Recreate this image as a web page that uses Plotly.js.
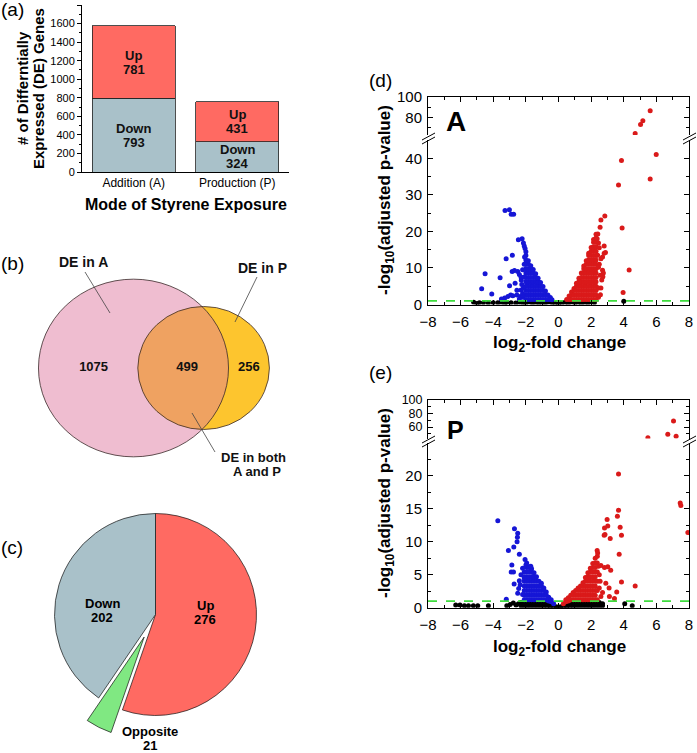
<!DOCTYPE html>
<html><head><meta charset="utf-8">
<script src="https://cdn.plot.ly/plotly-3.0.1.min.js"></script>
<style>html,body{margin:0;padding:0;background:#fff}#chart{width:697px;height:753px}</style>
</head><body><div id="chart"></div>
<script>
// ---------------- DATA ----------------
// (a) stacked bars
const modes = ['Addition (A)', 'Production (P)'];
const downCounts = [793, 324];
const upCounts = [781, 431];
// (b) Venn counts
const vennOnlyA = 1075, vennBoth = 499, vennOnlyP = 256;
// (c) pie
const pieLabels = ['Up', 'Opposite', 'Down'];
const pieValues = [276, 21, 202];
// (d) volcano A  [log2FC, -log10 padj]
const dBlack = [[-5.2,0.6],[-5.0,0.3],[-4.85,0.5],[-4.6,0.5],[-4.3,0.4],[-4.0,0.5],[-3.72,0.5],[-3.52,0.6],[-3.3,0.3],[-3.17,0.6],[-2.91,0.5],[-2.62,0.4],[-2.4,0.6],[-2.2,0.5],[-2.0,0.4],[-1.8,0.7],[-1.6,0.4],[-1.4,0.6],[-1.2,0.3],[-1.0,0.6],[-0.8,0.4],[-0.6,0.7],[-0.4,0.5],[-0.2,0.3],[0,0.2],[0.2,0.4],[0.4,0.6],[0.6,0.3],[0.8,0.7],[1.0,0.4],[1.2,0.6],[1.4,0.3],[1.6,0.6],[1.8,0.4],[2.0,0.7],[2.2,0.5],[4.0,0.9]];
const dBlueCols = [
  [-2.0,[1.4,2.6,3.8,5.0,6.2,7.4,8.6,9.8,11.0,12.2,13.4,14.4]],
  [-1.85,[1.4,2.6,3.8,5.0,6.2,7.4,8.6,9.8,11.0,12.0]],
  [-1.7,[1.4,2.6,3.8,5.0,6.2,7.4,8.6,9.8,10.6]],
  [-1.55,[1.4,2.6,3.8,5.0,6.2,7.4,8.6,9.6]],
  [-1.4,[1.4,2.6,3.8,5.0,6.2,7.4,8.4]],
  [-1.25,[1.4,2.6,3.8,5.0,6.2,7.2]],
  [-1.1,[1.4,2.6,3.8,5.0,6.0]],
  [-0.95,[1.4,2.6,3.8,4.9]],
  [-0.8,[1.4,2.6,3.7]],
  [-0.65,[1.4,2.6]],
  [-0.5,[1.4,1.9]],
  [-0.4,[1.3]]
];
const dBlueOut = [[-3.28,25.7],[-3.01,25.9],[-2.9,24.7],[-2.75,24.7],[-2.46,17.7],[-2.23,18.0],[-2.15,16.8],[-2.1,16.0],[-2.05,15.3],[-2.08,13.0],[-2.1,11.0],[-3.21,12.5],[-2.83,13.5],[-4.5,8.4],[-4.71,4.3],[-4.09,2.9],[-3.58,7.3],[-3.0,5.1],[-2.84,9.0],[-2.7,9.3],[-2.5,9.0],[-2.66,5.8],[-2.93,2.6],[-2.8,2.4],[-2.55,2.6],[-2.28,6.6],[-2.25,5.5],[-2.55,3.9],[-3.5,1.5],[-3.3,1.8],[-3.1,2.2],[-2.3,4.0],[-2.35,2.2],[-2.2,3.0],[-2.4,8.2],[-2.2,9.5],[-2.3,7.5],[-2.15,4.5],[-2.2,2.0],[-2.4,1.5],[-2.1,7.5]];
const dRedCols = [
  [0.5,[1.4]],
  [0.65,[1.4,2.3]],
  [0.8,[1.4,2.6,3.4]],
  [0.95,[1.4,2.6,3.8,4.4]],
  [1.1,[1.4,2.6,3.8,5.0,5.8]],
  [1.25,[1.4,2.6,3.8,5.0,6.2,7.2]],
  [1.4,[1.4,2.6,3.8,5.0,6.2,7.4,8.6]],
  [1.55,[1.4,2.6,3.8,5.0,6.2,7.4,8.6,9.8,10.5]],
  [1.7,[1.4,2.6,3.8,5.0,6.2,7.4,8.6,9.8,11.0,12.0]],
  [1.85,[1.4,2.6,3.8,5.0,6.2,7.4,8.6,9.8,11.0,12.2,13.4,14.0]],
  [2.0,[1.4,2.6,3.8,5.0,6.2,7.4,8.6,9.8,11.0,12.2,13.4,14.6,15.6]],
  [2.15,[1.4,2.6,3.8,5.0,6.2,7.4,8.6,9.8,11.0,12.2,13.4,14.6,15.8,17.0,17.8]],
  [2.3,[1.4,2.6,3.8,5.0,6.2,7.4,8.6,9.8,11.0,12.2,13.4,14.6,15.8,17.0,18.2,19.2]]
];
const dRedOut = [[5.99,41.0],[3.86,39.4],[5.62,34.3],[3.68,32.7],[3.9,20.9],[4.33,9.45],[3.96,3.3],[2.84,24.2],[2.6,23.1],[2.55,21.1],[2.41,19.3],[2.37,18.0],[2.8,16.0],[2.8,14.0],[2.88,14.2],[2.7,13.0],[2.6,12.5],[2.7,9.4],[2.75,8.6],[2.72,7.6],[2.65,6.7],[2.6,4.5],[2.45,4.5],[2.57,2.7],[2.45,2.0],[2.5,15.5],[2.45,16.8],[2.5,11.0],[2.45,10.2],[2.4,13.5],[2.55,8.0]];
const dRedHigh = [[5.62,86.4],[5.17,76.7],[5.03,73.2],[4.7,64.4]];
// (e) volcano P
const eBlack = [[-6.3,0.4],[-6.04,0.4],[-5.77,0.3],[-5.52,0.3],[-5.22,0.3],[-4.95,0.3],[-4.3,0.3],[-3.17,0.3],[-2.97,0.5],[-2.77,0.7],[-2.6,0.4],[-2.45,0.6],
  [-2.3,0.3],[-2.3,0.8],[-2.1,0.3],[-2.1,0.8],[-1.9,0.3],[-1.9,0.8],[-1.7,0.3],[-1.7,0.8],[-1.5,0.3],[-1.5,0.8],[-1.3,0.3],[-1.3,0.8],[-1.1,0.3],[-1.1,0.7],[-0.9,0.3],[-0.9,0.6],[-0.7,0.25],[-0.7,0.5],[-0.5,0.2],[-0.5,0.4],[-0.3,0.2],[-0.15,0.15],[0,0.1],[0.15,0.15],[0.3,0.2],[0.5,0.2],[0.5,0.4],[0.7,0.25],[0.7,0.5],[0.9,0.3],[0.9,0.6],[1.1,0.3],[1.1,0.7],
  [1.3,0.3],[1.3,0.8],[1.5,0.3],[1.5,0.8],[1.7,0.3],[1.7,0.8],[1.9,0.3],[1.9,0.8],[2.1,0.3],[2.1,0.8],[2.3,0.3],[2.3,0.8],[2.5,0.3],[2.5,0.8],[2.7,0.3],[2.7,0.6],[4.06,0.6],[4.52,0.3]];
const eBlueCols = [
  [-2.1,[1.2,1.9,2.6,3.3,4.0,4.7,5.4]],
  [-1.95,[1.2,1.9,2.6,3.3,4.0,4.7,5.4,6.1]],
  [-1.8,[1.2,1.9,2.6,3.3,4.0,4.7,5.4,6.1]],
  [-1.65,[1.2,1.9,2.6,3.3,4.0,4.7,5.4,5.9]],
  [-1.5,[1.2,1.9,2.6,3.3,4.0,4.7,5.3]],
  [-1.35,[1.2,1.9,2.6,3.3,4.0,4.7]],
  [-1.2,[1.2,1.9,2.6,3.3,4.0]],
  [-1.05,[1.2,1.9,2.6,3.3,3.7]],
  [-0.9,[1.2,1.9,2.6,3.0]],
  [-0.75,[1.2,1.9,2.4]],
  [-0.6,[1.0,1.6]],
  [-0.45,[0.9,1.2]],
  [-0.3,[0.6]]
];
const eBlueOut = [[-3.72,13.2],[-2.7,12.0],[-2.5,11.3],[-2.52,10.7],[-2.54,10.0],[-2.74,9.2],[-3.07,8.7],[-2.4,8.1],[-2.86,6.5],[-2.9,5.4],[-2.76,5.4],[-2.05,7.3],[-2.2,6.0],[-2.0,6.5],[-1.8,6.2],[-2.72,3.6],[-2.44,2.9],[-2.4,4.1],[-3.2,1.3],[-2.3,5.0],[-2.35,3.5],[-2.5,2.2],[-2.2,2.0],[-1.95,6.8],[-1.7,6.3],[-2.1,4.5]];
const eRedCols = [
  [0.3,[0.6]],
  [0.45,[0.9,1.2]],
  [0.6,[1.0,1.5]],
  [0.75,[1.2,1.9]],
  [0.9,[1.2,1.9,2.3]],
  [1.05,[1.2,1.9,2.6]],
  [1.2,[1.2,1.9,2.6,3.0]],
  [1.35,[1.2,1.9,2.6,3.3]],
  [1.5,[1.2,1.9,2.6,3.3,3.8]],
  [1.65,[1.2,1.9,2.6,3.3,4.0,4.6]],
  [1.8,[1.2,1.9,2.6,3.3,4.0,4.7,5.3]],
  [1.95,[1.2,1.9,2.6,3.3,4.0,4.7,5.4,6.0]],
  [2.1,[1.2,1.9,2.6,3.3,4.0,4.7,5.4,6.1,6.7]],
  [2.25,[1.2,1.9,2.6,3.3,4.0,4.7,5.4,6.1,6.8,7.5]],
  [2.38,[1.2,2.6,4.0,5.4,6.8,7.8]]
];
const eRedOut = [[3.68,20.3],[7.46,15.9],[7.5,15.5],[7.93,11.4],[3.68,14.8],[3.61,13.9],[2.98,13.4],[3.02,12.4],[2.82,12.1],[3.78,12.2],[2.8,11.0],[2.85,11.1],[3.17,10.5],[3.86,11.0],[3.72,8.1],[2.37,8.7],[2.82,6.1],[3.02,6.2],[3.2,5.7],[3.86,3.9],[4.7,3.3],[2.9,3.7],[3.1,3.0],[3.57,2.4],[3.12,1.7],[3.43,1.4],[2.6,1.7],[2.5,3.0],[2.5,5.0],[2.45,6.3],[2.55,4.0],[2.7,2.3],[2.6,6.4],[2.4,8.3]];
const eRedHigh = [[7.05,68.9],[6.7,49.2],[7.21,46.2],[5.48,44.1]];
const padjThreshold = 1;

// ---------------- BUILD ----------------
const W = 697, H = 753;
const px = x => x / W, py = y => 1 - y / H;
const F = 'Liberation Sans, Arial, Helvetica, sans-serif';
const upC = '#FF6A62', downC = '#A9C1C9', greenC = '#80E882';
const blueC = '#1616D6', redC = '#DA1A1A';

const flat = cols => { const xs = [], ys = []; cols.forEach(c => c[1].forEach(v => { xs.push(c[0]); ys.push(v); })); return [xs, ys]; };
const pts = (arr, xs0, ys0) => { const xs = (xs0 || []).slice(), ys = (ys0 || []).slice(); arr.forEach(p => { xs.push(p[0]); ys.push(p[1]); }); return [xs, ys]; };
const sc = (xy, color, xa, ya) => ({type:'scatter', mode:'markers', x:xy[0], y:xy[1], xaxis:xa, yaxis:ya,
  marker:{color:color, size:5, line:{width:0}}, hoverinfo:'skip', showlegend:false});

const traces = [];
// (a)
traces.push({type:'bar', x:modes, y:downCounts, name:'Down', width:0.8,
  marker:{color:downC, line:{color:'#222', width:0.8}}, textposition:'none', xaxis:'x', yaxis:'y', hoverinfo:'skip'});
traces.push({type:'bar', x:modes, y:upCounts, name:'Up', width:0.8,
  marker:{color:upC, line:{color:'#222', width:0.8}}, textposition:'none', xaxis:'x', yaxis:'y', hoverinfo:'skip'});

// (b) Venn geometry from counts (area proportional)
const nA = vennOnlyA + vennBoth, nP = vennOnlyP + vennBoth;
const rA = Math.sqrt(nA / Math.PI), rP = Math.sqrt(nP / Math.PI);
function lens(d) {
  const a1 = Math.acos((d*d + rA*rA - rP*rP) / (2*d*rA));
  const a2 = Math.acos((d*d + rP*rP - rA*rA) / (2*d*rP));
  return rA*rA*a1 + rP*rP*a2 - 0.5*Math.sqrt((-d+rA+rP)*(d+rA-rP)*(d-rA+rP)*(d+rA+rP));
}
let lo = Math.abs(rA - rP) + 1e-6, hi = rA + rP - 1e-6;
for (let i = 0; i < 80; i++) { const m = (lo + hi) / 2; if (lens(m) > vennBoth) lo = m; else hi = m; }
const dv = (lo + hi) / 2;
const K = 4.245, SQ = 0.935, cxA = 133.5, cyV = 368;
const cxP = cxA + dv * K;
const RA = rA * K, RP = rP * K;
const xi = (dv*dv + rA*rA - rP*rP) / (2*dv), hh = Math.sqrt(rA*rA - xi*xi);
const tA = Math.atan2(hh, xi), tP = Math.atan2(hh, dv - xi);
const mapV = (u, v) => (cxA + K*u).toFixed(2) + ',' + (cyV - K*SQ*v).toFixed(2);
let lensPath = '';
for (let i = 0; i <= 40; i++) { const t = -tA + 2*tA*i/40; lensPath += (i ? ' L' : 'M') + mapV(rA*Math.cos(t), rA*Math.sin(t)); }
for (let i = 0; i <= 40; i++) { const t = Math.PI - tP + 2*tP*i/40; lensPath += ' L' + mapV(dv + rP*Math.cos(t), rP*Math.sin(t)); }
lensPath += ' Z';
traces.push({type:'scatter', mode:'text', xaxis:'x2', yaxis:'y2',
  x:[cxA - RA*0.42, ((cxP - RP) + (cxA + RA))/2 + 4, ((cxA + RA) + (cxP + RP))/2],
  y:[cyV, cyV, cyV], text:[vennOnlyA, vennBoth, vennOnlyP].map(String),
  textfont:{family:F, size:13, color:'#111', weight:'bold'}, hoverinfo:'skip', showlegend:false, cliponaxis:false});

// (c) pie
traces.push({type:'pie', values:pieValues, labels:pieLabels, sort:false, direction:'clockwise', rotation:0,
  pull:[0, 0.25, 0], marker:{colors:[upC, greenC, downC], line:{color:'#111', width:0.7}},
  textinfo:'none', textposition:'none',
  domain:{x:[px(29.25), px(281.75)], y:[py(740.75), py(488.25)]}, hoverinfo:'skip', showlegend:false});

// (d)
traces.push(sc(pts(dBlack), '#000', 'x3', 'y3'));
const dB = flat(dBlueCols); traces.push(sc(pts(dBlueOut, dB[0], dB[1]), blueC, 'x3', 'y3'));
const dR = flat(dRedCols); traces.push(sc(pts(dRedOut, dR[0], dR[1]), redC, 'x3', 'y3'));
traces.push(sc(pts(dRedHigh), redC, 'x4', 'y4'));
traces.push({type:'scatter', mode:'lines', x:[-8, 8], y:[padjThreshold, padjThreshold], xaxis:'x3', yaxis:'y3',
  line:{color:'#3EDC3E', width:1.6, dash:'dash'}, hoverinfo:'skip', showlegend:false});
// (e)
traces.push(sc(pts(eBlack), '#000', 'x5', 'y5'));
const eB = flat(eBlueCols); traces.push(sc(pts(eBlueOut, eB[0], eB[1]), blueC, 'x5', 'y5'));
const eR = flat(eRedCols); traces.push(sc(pts(eRedOut, eR[0], eR[1]), redC, 'x5', 'y5'));
traces.push(sc(pts(eRedHigh), redC, 'x6', 'y6'));
traces.push({type:'scatter', mode:'lines', x:[-8, 8], y:[padjThreshold, padjThreshold], xaxis:'x5', yaxis:'y5',
  line:{color:'#3EDC3E', width:1.6, dash:'dash'}, hoverinfo:'skip', showlegend:false});

// ---------------- LAYOUT ----------------
const tf = s => ({family:F, size:s, color:'#000'});
const volX = (anchor, extra) => Object.assign({domain:[px(428), px(689)], range:[-8, 8], anchor:anchor,
  showline:true, linecolor:'#000', linewidth:1, ticks:'inside', ticklen:5, tickcolor:'#000', dtick:2, tick0:0,
  ticklabelstandoff:3,
  minor:{dtick:1, ticks:'inside', ticklen:3, tickcolor:'#000'}, showgrid:false, zeroline:false, tickfont:tf(15), fixedrange:true}, extra || {});
const volY = (anchor, top, bot, range, tickvals, mdt, fs) => ({domain:[py(bot), py(top)], range:range, anchor:anchor,
  showline:true, mirror:'ticks', linecolor:'#000', linewidth:1, ticks:'inside', ticklen:5, tickcolor:'#000',
  ticklabelstandoff:2,
  tickmode:'array', tickvals:tickvals, minor:{dtick:mdt, tick0:0, ticks:'inside', ticklen:3, tickcolor:'#000'},
  showgrid:false, zeroline:false, tickfont:tf(fs || 15), fixedrange:true});

const ann = (x, y, text, size, extra) => Object.assign({xref:'paper', yref:'paper', x:px(x), y:py(y), text:text,
  showarrow:false, xanchor:'center', yanchor:'middle', font:tf(size)}, extra || {});
const vann = (x, y, text, size) => ({xref:'x2', yref:'y2', x:x, y:y, text:text, showarrow:false,
  xanchor:'center', yanchor:'middle', font:{family:F, size:size, color:'#111', weight:'bold'}});
const bann = (x, y, text, shift) => ({xref:'x', yref:'y', x:x, y:y, text:'<b>' + text + '</b>', showarrow:false,
  xanchor:'center', yanchor:'middle', yshift:shift, font:{family:F, size:13, color:'#111'}});

const annotations = [
  ann(12, 10, '(a)', 19), ann(12, 263, '(b)', 19), ann(12, 547, '(c)', 19), ann(380, 80, '(d)', 19), ann(380, 372, '(e)', 19),
  ann(22, 88, '<b># of Differntially</b>', 15, {textangle:-90}),
  ann(38, 89, '<b>Expressed (DE) Genes</b>', 15, {textangle:-90}),
  ann(186, 205, '<b>Mode of Styrene Exposure</b>', 16),
  vann(83.5, 262, 'DE in A', 14), vann(262, 268, 'DE in P', 14),
  vann(253, 457, 'DE in both', 13), vann(257, 471, 'A and P', 13),
  ann(205, 605, '<b>' + pieLabels[0] + '</b>', 13), ann(205, 619, '<b>' + pieValues[0] + '</b>', 13),
  ann(102, 603, '<b>' + pieLabels[2] + '</b>', 13), ann(102, 617, '<b>' + pieValues[2] + '</b>', 13),
  ann(150, 731, '<b>' + pieLabels[1] + '</b>', 13), ann(150, 745, '<b>' + pieValues[1] + '</b>', 13),
  ann(456, 122, '<b>A</b>', 28), ann(455, 430, '<b>P</b>', 25),
  ann(386, 200, '<b>-log<sub>10</sub>(adjusted p-value)</b>', 17, {textangle:-90}),
  ann(386, 503, '<b>-log<sub>10</sub>(adjusted p-value)</b>', 17, {textangle:-90}),
  ann(559, 344, '<b>log<sub>2</sub>-fold change</b>', 17),
  ann(559, 648, '<b>log<sub>2</sub>-fold change</b>', 17)
];
modes.forEach((m, i) => {
  annotations.push(bann(m, downCounts[i] / 2, 'Down', 7), bann(m, downCounts[i] / 2, String(downCounts[i]), -7));
  annotations.push(bann(m, downCounts[i] + upCounts[i] / 2, 'Up', 7), bann(m, downCounts[i] + upCounts[i] / 2, String(upCounts[i]), -7));
});

const brk = (x0, y0, x1, y1) => ({type:'line', xref:'paper', yref:'paper', x0:px(x0), y0:py(y0), x1:px(x1), y1:py(y1), line:{color:'#000', width:1}});
const vline = (x0, y0, x1, y1) => ({type:'line', xref:'x2', yref:'y2', x0:x0, y0:y0, x1:x1, y1:y1, line:{color:'#444', width:0.8}, layer:'above'});
const shapes = [
  {type:'circle', xref:'x2', yref:'y2', x0:cxA-RA, x1:cxA+RA, y0:cyV-RA*SQ, y1:cyV+RA*SQ, fillcolor:'#EFBDD0', line:{width:0}, layer:'below'},
  {type:'circle', xref:'x2', yref:'y2', x0:cxP-RP, x1:cxP+RP, y0:cyV-RP*SQ, y1:cyV+RP*SQ, fillcolor:'#FDC52E', line:{width:0}, layer:'below'},
  {type:'path', xref:'x2', yref:'y2', path:lensPath, fillcolor:'#EFA261', line:{width:0}, layer:'below'},
  {type:'circle', xref:'x2', yref:'y2', x0:cxA-RA, x1:cxA+RA, y0:cyV-RA*SQ, y1:cyV+RA*SQ, fillcolor:'rgba(0,0,0,0)', line:{color:'#3a2a2a', width:0.8}, layer:'below'},
  {type:'circle', xref:'x2', yref:'y2', x0:cxP-RP, x1:cxP+RP, y0:cyV-RP*SQ, y1:cyV+RP*SQ, fillcolor:'rgba(0,0,0,0)', line:{color:'#3a2a2a', width:0.8}, layer:'below'},
  vline(85, 272, 110, 313), vline(257, 277, 235, 322), vline(192, 413, 215, 452),
  brk(422, 140, 435, 133), brk(422, 144, 435, 137), brk(683, 140, 696, 133), brk(683, 144, 696, 137),
  brk(422, 443, 435, 436), brk(422, 447, 435, 440), brk(683, 443, 696, 436), brk(683, 447, 696, 440)
];

const layout = {
  width:W, height:H, margin:{l:0, r:0, t:0, b:0}, paper_bgcolor:'#fff', plot_bgcolor:'rgba(0,0,0,0)',
  showlegend:false, barmode:'stack', font:{family:F, color:'#000'},
  xaxis:{domain:[px(82), px(289)], range:[-0.5, 1.5], type:'category', anchor:'y', showline:true, linecolor:'#000', linewidth:1,
    ticks:'', tickfont:tf(12), showgrid:false, zeroline:false, fixedrange:true},
  yaxis:{domain:[py(172), py(5)], range:[0, 1800], anchor:'x', dtick:200, ticks:'outside', ticklen:4, tickcolor:'#000',
    minor:{dtick:100, ticks:'outside', ticklen:2, tickcolor:'#000'}, showline:true, linecolor:'#000', linewidth:1,
    tickfont:tf(11), showgrid:false, zeroline:false, fixedrange:true},
  xaxis2:{domain:[0, px(350)], range:[0, 350], anchor:'y2', visible:false, fixedrange:true},
  yaxis2:{domain:[py(490), py(230)], range:[490, 230], anchor:'x2', visible:false, fixedrange:true},
  xaxis3: volX('y3'),
  yaxis3: volY('x3', 140, 304.5, [0, 45], [0,10,20,30,40], 5),
  xaxis4: volX('y4', {side:'top', showticklabels:false}),
  yaxis4: volY('x4', 96.7, 135, [63, 100], [80,100], 10),
  xaxis5: volX('y5'),
  yaxis5: volY('x5', 443, 607.7, [0, 25], [0,5,10,15,20], 2.5),
  xaxis6: volX('y6', {side:'top', showticklabels:false}),
  yaxis6: volY('x6', 400, 438.5, [43, 100], [60,80,100], 10, 12.5),
  annotations: annotations, shapes: shapes
};
Plotly.newPlot('chart', traces, layout, {staticPlot:true, displayModeBar:false});
</script></body></html>
